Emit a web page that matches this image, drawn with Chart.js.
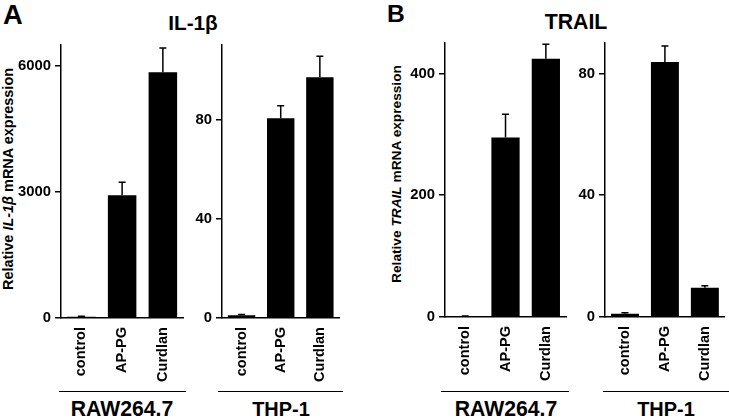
<!DOCTYPE html>
<html>
<head>
<meta charset="utf-8">
<script src="https://cdn.jsdelivr.net/npm/chart.js@4.4.1/dist/chart.umd.min.js"></script>
<style>
  body { margin: 0; background: #fff; }
  #wrap { position: relative; width: 729px; height: 419px; overflow: hidden; font-family: "Liberation Sans", Arial, sans-serif; color: #000; }
  canvas { position: absolute; pointer-events: none; }
  .txt { position: absolute; font-weight: bold; white-space: nowrap; transform: translate(-50%, -50%); }
  .rot { transform: translate(-50%, -50%) rotate(-90deg); }
  .line { position: absolute; border-top: 1.5px solid #000; height: 0; }
</style>
</head>
<body>
<div id="wrap">
  <div class="txt" data-w="20" style="left:13px;top:15px;font-size:26px;">A</div>
  <div class="txt" data-w="18" style="left:396px;top:14px;font-size:26px;">B</div>
  <div class="txt" data-w="50" style="left:193px;top:23px;font-size:22px;">IL-1β</div>
  <div class="txt" data-w="63" style="left:576px;top:22px;font-size:22px;">TRAIL</div>
  <div class="txt rot" data-w="222" style="left:8px;top:179px;font-size:14px;">Relative <i>IL-1β</i> mRNA expression</div>
  <div class="txt rot" data-w="218" style="left:396px;top:174px;font-size:14px;">Relative <i>TRAIL</i> mRNA expression</div>

  <div class="line" style="left:59px;top:391px;width:127px;"></div>
  <div class="line" style="left:218px;top:391px;width:125px;"></div>
  <div class="line" style="left:441px;top:391px;width:128px;"></div>
  <div class="line" style="left:603px;top:391px;width:126px;"></div>
  <div class="txt" data-w="103" style="left:122px;top:409px;font-size:21px;">RAW264.7</div>
  <div class="txt" data-w="58" style="left:281px;top:409px;font-size:21px;">THP-1</div>
  <div class="txt" data-w="103" style="left:506px;top:409px;font-size:21px;">RAW264.7</div>
  <div class="txt" data-w="58" style="left:666px;top:409px;font-size:21px;">THP-1</div>

  <canvas id="a1"></canvas>
  <canvas id="a2"></canvas>
  <canvas id="b1"></canvas>
  <canvas id="b2"></canvas>
</div>
<script>
const categories = ['control', 'AP-PG', 'Curdlan'];

// IL-1beta, RAW264.7 and THP-1
const il1bRaw = [30, 2920, 5850];
const il1bRawErr = [10, 310, 580];
const il1bThp = [1.1, 80.5, 97];
const il1bThpErr = [0.3, 5, 8.5];

// TRAIL, RAW264.7 and THP-1
const trailRaw = [1, 295, 424];
const trailRawErr = [0.5, 38, 24];
const trailThp = [1.1, 83.8, 9.6];
const trailThpErr = [0.3, 5.2, 0.7];

// y tick labels per panel
const il1bRawTicks = [0, 3000, 6000];
const il1bThpTicks = [0, 40, 80];
const trailRawTicks = [0, 200, 400];
const trailThpTicks = [0, 40, 80];

const family = '"Liberation Sans", Arial, sans-serif';
Chart.defaults.font.family = family;
Chart.defaults.color = '#000';

// size html labels to the widths measured on the reference
document.querySelectorAll('[data-w]').forEach(el => {
  const fs = parseFloat(el.style.fontSize);
  el.style.fontSize = (fs * (+el.dataset.w) / el.offsetWidth).toFixed(2) + 'px';
});

// same for canvas text
const mctx = document.createElement('canvas').getContext('2d');
function sizeFor(text, target) {
  mctx.font = 'bold 100px ' + family;
  return 100 * target / mctx.measureText(text).width;
}
const tickSize = sizeFor('6000', 33);
const catSize = sizeFor('Curdlan', 55);

const errorBars = {
  id: 'errorBars',
  afterDatasetsDraw(chart) {
    const ctx = chart.ctx;
    const y = chart.scales.y;
    const errs = chart.data.datasets[0].errors;
    const vals = chart.data.datasets[0].data;
    chart.getDatasetMeta(0).data.forEach((bar, i) => {
      const top = y.getPixelForValue(vals[i]);
      const end = y.getPixelForValue(vals[i] + errs[i]);
      ctx.save();
      ctx.strokeStyle = '#000';
      ctx.lineWidth = 1.5;
      ctx.beginPath();
      ctx.moveTo(bar.x, top);
      ctx.lineTo(bar.x, end);
      ctx.moveTo(bar.x - 3.5, end);
      ctx.lineTo(bar.x + 3.5, end);
      ctx.stroke();
      ctx.restore();
    });
  }
};

const yAxisW = 50;
const canvasTop = 30;

function makePanel(id, values, errors, tickVals, axisX, right, top, bottom, max) {
  const cv = document.getElementById(id);
  const w = right - axisX + yAxisW + 4;
  const h = bottom - canvasTop + 72;
  cv.width = w;
  cv.height = h;
  cv.style.left = (axisX - yAxisW) + 'px';
  cv.style.top = canvasTop + 'px';
  new Chart(cv, {
    type: 'bar',
    data: {
      labels: categories,
      datasets: [{
        data: values,
        errors: errors,
        backgroundColor: '#000',
        barPercentage: 0.7,
        categoryPercentage: 1.0
      }]
    },
    options: {
      responsive: false,
      animation: false,
      devicePixelRatio: 1,
      layout: { padding: { top: top - canvasTop, right: 4, left: 0, bottom: 0 } },
      plugins: { legend: { display: false }, tooltip: { enabled: false } },
      scales: {
        x: {
          grid: { display: true, drawOnChartArea: false, drawTicks: false },
          border: { color: '#000', width: 1.5 },
          ticks: {
            autoSkip: false, minRotation: 90, maxRotation: 90, padding: 9,
            font: { size: catSize, weight: 'bold' }, color: '#000'
          },
          afterFit(s) { s.height = 72; }
        },
        y: {
          min: 0,
          max: max,
          grid: { drawOnChartArea: false, tickLength: 6, color: '#000', lineWidth: 1.5 },
          border: { color: '#000', width: 1.5 },
          ticks: {
            padding: 4,
            font: { size: tickSize, weight: 'bold' }, color: '#000',
            callback: v => String(v)
          },
          afterBuildTicks(s) { s.ticks = tickVals.map(v => ({ value: v })); },
          afterFit(s) { s.width = yAxisW; }
        }
      }
    },
    plugins: [errorBars]
  });
}

makePanel('a1', il1bRaw, il1bRawErr, il1bRawTicks, 61, 186, 45, 318, 6500);
makePanel('a2', il1bThp, il1bThpErr, il1bThpTicks, 222, 343, 45, 318, 110);
makePanel('b1', trailRaw, trailRawErr, trailRawTicks, 445, 569, 43, 317.5, 450);
makePanel('b2', trailThp, trailThpErr, trailThpTicks, 605, 728, 43, 317.5, 90);
</script>
</body>
</html>
